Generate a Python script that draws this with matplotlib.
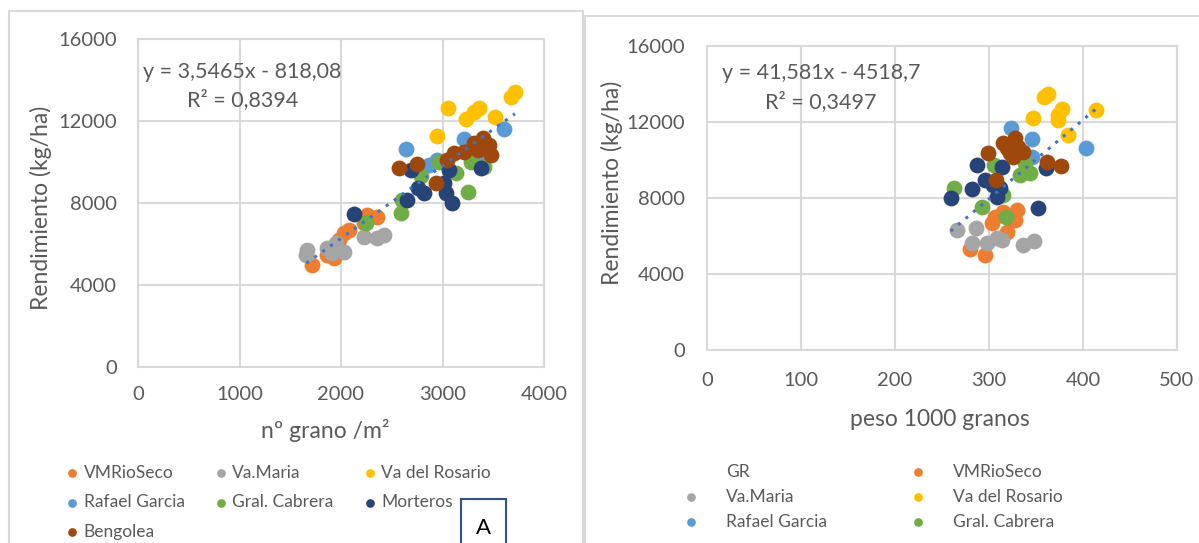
import numpy as np
import matplotlib
matplotlib.use("Agg")
import matplotlib.pyplot as plt
from matplotlib.lines import Line2D
from matplotlib.patches import Rectangle

plt.rcParams['font.family'] = ['Lato', 'DejaVu Sans']

# Colores (paleta Office)
colores = {
    'VMRioSeco': '#ED7D31',
    'Va.Maria': '#A5A5A5',
    'Va del Rosario': '#FFC000',
    'Rafael Garcia': '#5B9BD5',
    'Gral. Cabrera': '#70AD47',
    'Morteros': '#264478',
    'Bengolea': '#9E480E',
}
sitios = list(colores.keys())

# ---- Panel A: nº granos/m2 vs rendimiento ----
granos_vmrioseco = [1715, 1929, 1863, 2077, 2028, 2259, 2357, 2225, 1978]
rend_vmrioseco_a = [4976, 5301, 5463, 6683, 6520, 7415, 7333, 7008, 6195]
granos_vamaria = [1666, 1659, 1863, 1946, 2028, 2225, 2357, 2423, 1913]
rend_vamaria_a = [5707, 5463, 5789, 6033, 5626, 6358, 6276, 6439, 5545]
granos_rosario = [3055, 2943, 3230, 3312, 3361, 3519, 3674, 3714]
rend_rosario_a = [12620, 11285, 12098, 12455, 12620, 12180, 13187, 13430]
granos_rafael = [2640, 3213, 3602, 2943, 2868, 2770, 3400]
rend_rafael_a = [10634, 11122, 11610, 10098, 9854, 9600, 10300]
granos_cabrera = [2242, 2588, 2604, 2785, 2966, 3131, 3253, 3279, 3411]
rend_cabrera_a = [7041, 7529, 8146, 9317, 10016, 9447, 8553, 10016, 9772]
granos_morteros = [2133, 2647, 2818, 2759, 3016, 3032, 3098, 3065, 3384, 2686]
rend_morteros_a = [7447, 8146, 8504, 8716, 8959, 8472, 7983, 9610, 9724, 9610]
granos_bengolea = [2575, 2752, 2933, 3049, 3115, 3213, 3312, 3395, 3460, 3477, 3345]
rend_bengolea_a = [9691, 9902, 8992, 10098, 10423, 10504, 10911, 11155, 10829, 10341, 10585]

# ---- Panel B: peso 1000 granos vs rendimiento ----
peso_vmrioseco = [279.8, 295.7, 302.8, 315.2, 329.4, 327.7, 318.8, 306.4]
rend_vmrioseco_b = [5298, 5000, 6666, 7280, 7368, 6842, 6227, 7017]
peso_vamaria = [265.6, 286.2, 281.6, 297.5, 308.2, 313.5, 336.5, 347.9]
rend_vamaria_b = [6316, 6403, 5614, 5649, 5877, 5789, 5526, 5754]
peso_rosario = [358.5, 363.0, 346.5, 373.8, 377.3, 373.8, 384.4, 413.8]
rend_rosario_b = [13300, 13474, 12193, 12368, 12666, 12105, 11316, 12632]
peso_rafael = [323.4, 345.4, 403.2, 345.4, 333.0]
rend_rafael_b = [11666, 11105, 10649, 10175, 10438]
peso_cabrera = [263.1, 292.2, 318.1, 305.3, 315.2, 333.0, 343.6, 338.3]
rend_cabrera_b = [8544, 7508, 7017, 9737, 8158, 9210, 9298, 9824]
peso_morteros = [259.2, 281.6, 287.6, 313.5, 295.7, 304.6, 308.9, 352.5, 360.6, 311.7]
rend_morteros_b = [7982, 8456, 9737, 9649, 8947, 8684, 8070, 7456, 9561, 8509]
peso_bengolea = [298.6, 307.4, 315.2, 327.7, 322.3, 331.2, 336.5, 325.9, 361.3, 376.2, 318.8]
rend_bengolea_b = [10351, 8947, 10877, 11140, 10351, 10702, 10438, 10175, 9912, 9684, 10614]

# Ecuaciones de tendencia mostradas en el grafico
pend_a, ord_a = 3.5465, -818.08
pend_b, ord_b = 41.581, -4518.7

datos_a = [(granos_vmrioseco, rend_vmrioseco_a), (granos_vamaria, rend_vamaria_a),
           (granos_rosario, rend_rosario_a), (granos_rafael, rend_rafael_a),
           (granos_cabrera, rend_cabrera_a), (granos_morteros, rend_morteros_a),
           (granos_bengolea, rend_bengolea_a)]
datos_b = [(peso_vmrioseco, rend_vmrioseco_b), (peso_vamaria, rend_vamaria_b),
           (peso_rosario, rend_rosario_b), (peso_rafael, rend_rafael_b),
           (peso_cabrera, rend_cabrera_b), (peso_morteros, rend_morteros_b),
           (peso_bengolea, rend_bengolea_b)]

GRIS_TXT = '#595959'
GRIS_LIN = '#D9D9D9'

fig = plt.figure(figsize=(11.99, 5.43), dpi=100)

# marcos de cada grafico
fig.add_artist(Rectangle((9/1199, -0.02), (583-9)/1199, 1-11/543+0.02, transform=fig.transFigure,
                         fill=False, edgecolor=GRIS_LIN, lw=1.5))
fig.add_artist(Rectangle((585/1199, -0.02), 0.6, 1-16/543+0.02, transform=fig.transFigure,
                         fill=False, edgecolor=GRIS_LIN, lw=1.5))

ax1 = fig.add_axes([138/1199, 1-367/543, (544-138)/1199, (367-39)/543])
ax2 = fig.add_axes([707/1199, 1-350/543, (1177-707)/1199, (350-46)/543])


def estilo(ax, pad_x, pad_y):
    ax.grid(True, color=GRIS_LIN, lw=1.5)
    ax.set_axisbelow(True)
    for s in ax.spines.values():
        s.set_color(GRIS_LIN)
        s.set_linewidth(1.5)
    ax.tick_params(axis='both', length=0, labelsize=14.5, labelcolor=GRIS_TXT)
    ax.tick_params(axis='x', pad=pad_x)
    ax.tick_params(axis='y', pad=pad_y)


for ax, datos in [(ax1, datos_a), (ax2, datos_b)]:
    for nombre, (xs, ys) in zip(sitios, datos):
        ax.scatter(xs, ys, s=130, color=colores[nombre], label=nombre, linewidths=0, zorder=3)

# lineas de tendencia
xa = np.array([min(min(d[0]) for d in datos_a), max(max(d[0]) for d in datos_a)])
ax1.plot(xa, pend_a * xa + ord_a, linestyle=(0, (1, 2.2)), color='#4472C4', lw=2.2, zorder=4)
xb = np.array([min(min(d[0]) for d in datos_b), max(max(d[0]) for d in datos_b)])
ax2.plot(xb, pend_b * xb + ord_b, linestyle=(0, (1, 2.2)), color='#4472C4', lw=2.2, zorder=4)

ax1.set_xlim(0, 4000)
ax1.set_ylim(0, 16000)
ax1.set_xticks(range(0, 4001, 1000))
ax1.set_yticks(range(0, 16001, 4000))
ax2.set_xlim(0, 500)
ax2.set_ylim(0, 16000)
ax2.set_xticks(range(0, 501, 100))
ax2.set_yticks(range(0, 16001, 4000))
estilo(ax1, 14, 15)
estilo(ax2, 16, 16)

# etiquetas de la tendencia
fig.text(242/1199, 1-72/543, 'y = 3,5465x - 818,08', ha='center', va='center',
         fontsize=15.5, color=GRIS_TXT)
fig.text(243/1199, 1-100/543, 'R² = 0,8394', ha='center', va='center',
         fontsize=15.5, color=GRIS_TXT)
fig.text(821/1199, 1-73/543, 'y = 41,581x - 4518,7', ha='center', va='center',
         fontsize=15.5, color=GRIS_TXT)
fig.text(821/1199, 1-102/543, 'R² = 0,3497', ha='center', va='center',
         fontsize=15.5, color=GRIS_TXT)

# titulos de ejes
fig.text(41/1199, 1-208/543, 'Rendimiento (kg/ha)', rotation=90, ha='center', va='center',
         fontsize=16.5, color=GRIS_TXT)
fig.text(612/1199, 1-183/543, 'Rendimiento (kg/ha)', rotation=90, ha='center', va='center',
         fontsize=16.5, color=GRIS_TXT)
fig.text(325/1199, 1-430/543, 'nº grano /m²', ha='center', va='center', fontsize=16.5, color=GRIS_TXT)
fig.text(940/1199, 1-420/543, 'peso 1000 granos', ha='center', va='center', fontsize=16.5, color=GRIS_TXT)

# leyenda panel A (orden por columnas para que se lea por filas)
h1, l1 = ax1.get_legend_handles_labels()
idx_a = [0, 3, 6, 1, 4, 2, 5]
fig.legend([h1[i] for i in idx_a], [l1[i] for i in idx_a], loc='upper left',
           bbox_to_anchor=(55/1199, 1-456/543), ncol=3, frameon=False,
           fontsize=12.5, labelcolor=GRIS_TXT, markerscale=0.55, handletextpad=0.15,
           columnspacing=1.6, labelspacing=0.78, handlelength=1.0, borderpad=0)

# leyenda panel B (cortada, con entrada "GR" vacia)
h2, l2 = ax2.get_legend_handles_labels()
vacio = Line2D([], [], linestyle='none', marker=None)
orden = [(vacio, 'GR'), (h2[1], l2[1]), (h2[3], l2[3]),
         (h2[0], l2[0]), (h2[2], l2[2]), (h2[4], l2[4])]
fig.legend([o[0] for o in orden], [o[1] for o in orden], loc='upper left',
           bbox_to_anchor=(674/1199, 1-455/543), ncol=2, frameon=False,
           fontsize=12.5, labelcolor=GRIS_TXT, markerscale=0.55, handletextpad=1.5,
           columnspacing=4.75, labelspacing=0.52, handlelength=1.0, borderpad=0)

# recuadro "A"
fig.add_artist(Rectangle((461/1199, -0.02), 45/1199, (543-499)/543+0.02, transform=fig.transFigure,
                         fill=False, edgecolor='#2F528F', lw=1.5))
fig.text(483/1199, 1-528/543, 'A', ha='center', va='center', fontsize=16, color='black')

fig.savefig('out.png', dpi=100)
